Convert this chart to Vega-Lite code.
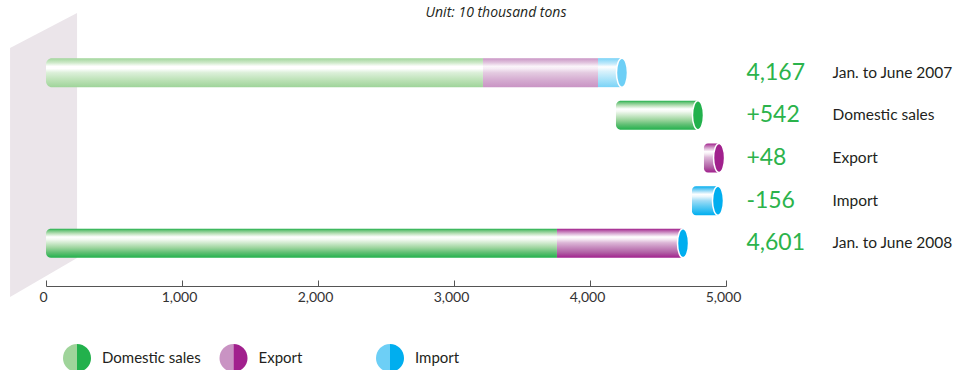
{
  "$schema": "https://vega.github.io/schema/vega-lite/v6.json",
  "width": 680,
  "height": 256,
  "autosize": {"type": "none"},
  "padding": {"left": 46, "top": 30, "right": 230, "bottom": 84},
  "background": "white",
  "title": {
    "text": "Unit: 10 thousand tons",
    "font": "Open Sans",
    "fontStyle": "italic",
    "fontWeight": "normal",
    "fontSize": 14,
    "color": "#231f20",
    "anchor": "middle",
    "dx": 110,
    "offset": -7
  },
  "datasets": {
    "segs": [
      {"id": "d07", "row": "Jan. to June 2007", "series": "Domestic sales", "start": 0, "end": 3213},
      {"id": "e07", "row": "Jan. to June 2007", "series": "Export", "start": 3213, "end": 4059},
      {"id": "i07", "row": "Jan. to June 2007", "series": "Import", "start": 4059, "end": 4235},
      {"id": "dD", "row": "Domestic sales", "series": "Domestic sales", "start": 4191, "end": 4794},
      {"id": "dE", "row": "Export", "series": "Export", "start": 4838, "end": 4949},
      {"id": "dI", "row": "Import", "series": "Import", "start": 4750, "end": 4941},
      {"id": "d08", "row": "Jan. to June 2008", "series": "Domestic sales", "start": 0, "end": 3757},
      {"id": "e08", "row": "Jan. to June 2008", "series": "Export", "start": 3757, "end": 4684}
    ],
    "caps": [
      {"row": "Jan. to June 2007", "series": "Import", "tone": "light", "pos": 4235},
      {"row": "Domestic sales", "series": "Domestic sales", "tone": "dark", "pos": 4794},
      {"row": "Export", "series": "Export", "tone": "dark", "pos": 4949},
      {"row": "Import", "series": "Import", "tone": "dark", "pos": 4941},
      {"row": "Jan. to June 2008", "series": "Import", "tone": "dark", "pos": 4684}
    ],
    "labels": [
      {"row": "Jan. to June 2007", "label": "4,167"},
      {"row": "Domestic sales", "label": "+542"},
      {"row": "Export", "label": "+48"},
      {"row": "Import", "label": "-156"},
      {"row": "Jan. to June 2008", "label": "4,601"}
    ]
  },
  "encoding": {
    "y": {
      "field": "row",
      "type": "nominal",
      "sort": null,
      "scale": {
        "domain": ["Jan. to June 2007", "Domestic sales", "Export", "Import", "Jan. to June 2008"],
        "paddingInner": 0,
        "paddingOuter": 0.5
      },
      "axis": {
        "orient": "right",
        "title": null,
        "domain": false,
        "ticks": false,
        "labelPadding": 106,
        "labelAlign": "left",
        "labelBaseline": "middle",
        "labelFont": "Lato",
        "labelFontSize": 15.5,
        "labelColor": "#231f20"
      }
    }
  },
  "resolve": {"scale": {"fill": "independent"}, "legend": {"fill": "independent"}},
  "layer": [
    {
      "data": {"values": [{"row": "Export"}]},
      "mark": {"type": "point", "shape": "M33.5,-145L33.5,100L-33.5,139L-33.5,-110Z", "size": 4, "filled": true, "color": "#ebe5ea", "opacity": 1, "strokeWidth": 0},
      "encoding": {
        "x": {"datum": -18, "type": "quantitative", "scale": {"domain": [0, 5000], "nice": false, "zero": false}}
      }
    },
    {
      "data": {"name": "segs"},
      "transform": [{"filter": "datum.id === 'd07'"}],
      "mark": {"type": "bar", "height": 29, "cornerRadiusTopLeft": 6, "cornerRadiusBottomLeft": 6,
        "color": {"gradient": "linear", "x1": 0, "y1": 0, "x2": 0, "y2": 1, "stops": [
          {"offset": 0, "color": "#a0d59a"}, {"offset": 0.16, "color": "#cfeacb"}, {"offset": 0.28, "color": "#ffffff"},
          {"offset": 0.36, "color": "#ffffff"}, {"offset": 0.5, "color": "#dcf0d9"}, {"offset": 0.75, "color": "#bde2b7"}, {"offset": 1, "color": "#9fd49a"}]}},
      "encoding": {
        "x": {
          "field": "start",
          "type": "quantitative",
          "scale": {"domain": [0, 5000], "nice": false, "zero": false},
          "axis": {
            "title": null,
            "grid": false,
            "values": [0, 1000, 2000, 3000, 4000, 5000],
            "format": ",d",
            "tickSize": -6,
            "labelPadding": 10,
            "labelOffset": -3,
            "labelFlush": false,
            "labelFont": "Lato",
            "labelFontSize": 14,
            "labelColor": "#333333",
            "domainColor": "#555555",
            "tickColor": "#555555"
          }
        },
        "x2": {"field": "end"}
      }
    },
    {
      "data": {"name": "segs"},
      "transform": [{"filter": "datum.id === 'e07'"}],
      "mark": {"type": "bar", "height": 29,
        "color": {"gradient": "linear", "x1": 0, "y1": 0, "x2": 0, "y2": 1, "stops": [
          {"offset": 0, "color": "#c994c4"}, {"offset": 0.16, "color": "#e2c6df"}, {"offset": 0.28, "color": "#fbf5fa"},
          {"offset": 0.36, "color": "#f6ecf5"}, {"offset": 0.5, "color": "#e4cbe1"}, {"offset": 0.75, "color": "#d5acd1"}, {"offset": 1, "color": "#c994c4"}]}},
      "encoding": {"x": {"field": "start", "type": "quantitative"}, "x2": {"field": "end"}}
    },
    {
      "data": {"name": "segs"},
      "transform": [{"filter": "datum.id === 'i07'"}],
      "mark": {"type": "bar", "height": 29,
        "color": {"gradient": "linear", "x1": 0, "y1": 0, "x2": 0, "y2": 1, "stops": [
          {"offset": 0, "color": "#7ad3f7"}, {"offset": 0.2, "color": "#c6ebfb"}, {"offset": 0.3, "color": "#ffffff"},
          {"offset": 0.45, "color": "#d9f2fc"}, {"offset": 0.75, "color": "#a6e2f9"}, {"offset": 1, "color": "#7ad3f7"}]}},
      "encoding": {"x": {"field": "start", "type": "quantitative"}, "x2": {"field": "end"}}
    },
    {
      "data": {"name": "segs"},
      "transform": [{"filter": "datum.id === 'dD' || datum.id === 'd08'"}],
      "mark": {"type": "bar", "height": 29, "cornerRadiusTopLeft": 5, "cornerRadiusBottomLeft": 5,
        "color": {"gradient": "linear", "x1": 0, "y1": 0, "x2": 0, "y2": 1, "stops": [
          {"offset": 0, "color": "#22b14c"}, {"offset": 0.06, "color": "#6cc47c"}, {"offset": 0.16, "color": "#b7dfb6"},
          {"offset": 0.28, "color": "#ffffff"}, {"offset": 0.36, "color": "#f4faf3"}, {"offset": 0.48, "color": "#d2ebd0"},
          {"offset": 0.65, "color": "#9ed59f"}, {"offset": 0.82, "color": "#5fbf73"}, {"offset": 1, "color": "#22b14c"}]}},
      "encoding": {"x": {"field": "start", "type": "quantitative"}, "x2": {"field": "end"}}
    },
    {
      "data": {"name": "segs"},
      "transform": [{"filter": "datum.id === 'dE'"}],
      "mark": {"type": "bar", "height": 29, "cornerRadiusTopLeft": 4, "cornerRadiusBottomLeft": 4,
        "color": {"gradient": "linear", "x1": 0, "y1": 0, "x2": 0, "y2": 1, "stops": [
          {"offset": 0, "color": "#a1208d"}, {"offset": 0.06, "color": "#b85ba8"}, {"offset": 0.16, "color": "#d8aad2"},
          {"offset": 0.28, "color": "#ffffff"}, {"offset": 0.36, "color": "#f5eaf3"}, {"offset": 0.48, "color": "#dcb6d7"},
          {"offset": 0.65, "color": "#c589bd"}, {"offset": 0.82, "color": "#b05fa4"}, {"offset": 1, "color": "#a1208d"}]}},
      "encoding": {"x": {"field": "start", "type": "quantitative"}, "x2": {"field": "end"}}
    },
    {
      "data": {"name": "segs"},
      "transform": [{"filter": "datum.id === 'e08'"}],
      "mark": {"type": "bar", "height": 29,
        "color": {"gradient": "linear", "x1": 0, "y1": 0, "x2": 0, "y2": 1, "stops": [
          {"offset": 0, "color": "#a1208d"}, {"offset": 0.06, "color": "#b85ba8"}, {"offset": 0.16, "color": "#d8aad2"},
          {"offset": 0.28, "color": "#ffffff"}, {"offset": 0.36, "color": "#f5eaf3"}, {"offset": 0.48, "color": "#dcb6d7"},
          {"offset": 0.65, "color": "#c589bd"}, {"offset": 0.82, "color": "#b05fa4"}, {"offset": 1, "color": "#a1208d"}]}},
      "encoding": {"x": {"field": "start", "type": "quantitative"}, "x2": {"field": "end"}}
    },
    {
      "data": {"name": "segs"},
      "transform": [{"filter": "datum.id === 'dI'"}],
      "mark": {"type": "bar", "height": 29, "cornerRadiusTopLeft": 4, "cornerRadiusBottomLeft": 4,
        "color": {"gradient": "linear", "x1": 0, "y1": 0, "x2": 0, "y2": 1, "stops": [
          {"offset": 0, "color": "#00aeef"}, {"offset": 0.08, "color": "#4fc3f2"}, {"offset": 0.18, "color": "#a9e0f8"},
          {"offset": 0.28, "color": "#ffffff"}, {"offset": 0.36, "color": "#e8f7fd"}, {"offset": 0.5, "color": "#9fdcf6"},
          {"offset": 0.7, "color": "#5ccaf3"}, {"offset": 1, "color": "#00aeef"}]}},
      "encoding": {"x": {"field": "start", "type": "quantitative"}, "x2": {"field": "end"}}
    },
    {
      "data": {"name": "caps"},
      "transform": [{"filter": "datum.tone === 'light'"}],
      "mark": {"type": "point", "shape": "M0,-1A0.38,1 0 1,1 0,1A0.38,1 0 1,1 0,-1Z", "size": 841, "filled": true, "stroke": "white", "strokeWidth": 1.5, "opacity": 1},
      "encoding": {
        "x": {"field": "pos", "type": "quantitative"},
        "fill": {
          "field": "series",
          "type": "nominal",
          "scale": {"domain": ["Domestic sales", "Export", "Import"], "range": ["#9fd49a", "#c993c3", "#6dcff6"]},
          "legend": {
            "orient": "none",
            "legendX": 17,
            "legendY": 314,
            "direction": "horizontal",
            "columns": 3,
            "gridAlign": "all",
            "columnPadding": 18.5,
            "title": null,
            "symbolType": "M0,-1A1,1 0 0,0 0,1Z",
            "symbolSize": 784,
            "symbolStrokeWidth": 0,
            "symbolOpacity": 1,
            "labelFont": "Lato",
            "labelFontSize": 15,
            "labelColor": "#231f20",
            "labelOpacity": 0,
            "labelOffset": 11
          }
        }
      }
    },
    {
      "data": {"name": "caps"},
      "transform": [{"filter": "datum.tone === 'dark'"}],
      "mark": {"type": "point", "shape": "M0,-1A0.38,1 0 1,1 0,1A0.38,1 0 1,1 0,-1Z", "size": 841, "filled": true, "stroke": "white", "strokeWidth": 1.5, "opacity": 1},
      "encoding": {
        "x": {"field": "pos", "type": "quantitative"},
        "fill": {
          "field": "series",
          "type": "nominal",
          "scale": {"domain": ["Domestic sales", "Export", "Import"], "range": ["#22b14c", "#a1208d", "#00aeef"]},
          "legend": {
            "orient": "none",
            "legendX": 17,
            "legendY": 314,
            "direction": "horizontal",
            "columns": 3,
            "gridAlign": "all",
            "columnPadding": 18.5,
            "title": null,
            "symbolType": "M0,-1A1,1 0 0,1 0,1Z",
            "symbolSize": 784,
            "symbolStrokeWidth": 0,
            "symbolOpacity": 1,
            "labelFont": "Lato",
            "labelFontSize": 15,
            "labelColor": "#231f20",
            "labelOffset": 11
          }
        }
      }
    },
    {
      "data": {"name": "labels"},
      "mark": {"type": "text", "align": "left", "baseline": "middle", "font": "Lato", "fontSize": 23, "color": "#2bb34b"},
      "encoding": {
        "x": {"datum": 5150, "type": "quantitative"},
        "text": {"field": "label", "type": "nominal"}
      }
    }
  ],
  "config": {"view": {"stroke": null}}
}
